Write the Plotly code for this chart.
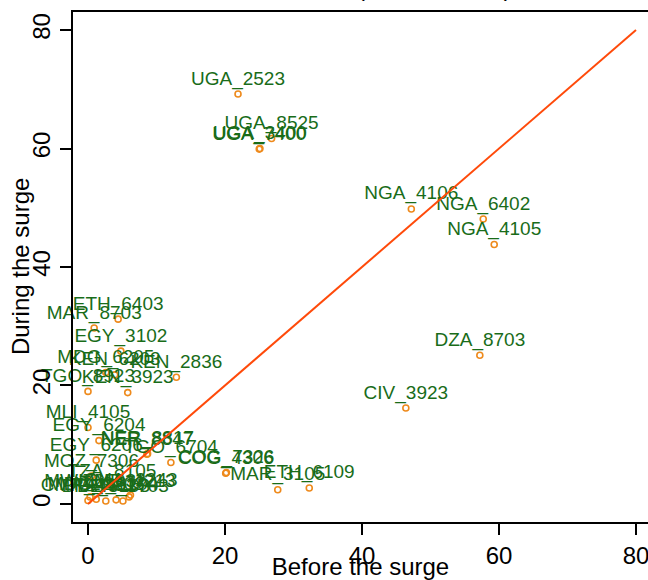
import plotly.graph_objects as go

# ---- data ----
labels = [
    "UGA_2523", "UGA_8525", "UGA_7400", "UGA_3400",
    "NGA_4106", "NGA_6402", "NGA_4105", "DZA_8703", "CIV_3923",
    "ETH_6403", "MAR_8703", "EGY_3102", "MDG_6205", "KEN_6203",
    "KEN_2836", "TGO_8923", "KEN_3923",
    "MLI_4105", "EGY_6204", "NER_8847", "NER_8817", "EGY_6206",
    "TGO_6704", "MOZ_7306", "COG_4306", "COG_7326", "MAR_3105", "ETH_6109",
    "TZA_8105", "GHA_2243", "ZMB_4213",
    "CMR_4411", "MWI_6503", "MDG_2203", "BFA_5103", "MLI_6104", "BEN_3703",
]
before = [
    21.9, 26.8, 25.0, 25.1,
    47.2, 57.7, 59.3, 57.2, 46.4,
    4.4, 0.9, 4.8, 2.6, 3.9,
    12.9, 0.0, 5.8,
    0.0, 1.6, 8.6, 8.7, 1.2,
    12.1, 0.5, 20.1, 20.2, 27.7, 32.3,
    3.5, 6.2, 6.0,
    0.0, 0.3, 1.2, 2.6, 4.1, 5.1,
]
during = [
    69.2, 61.7, 59.9, 60.0,
    49.8, 48.1, 43.8, 25.1, 16.2,
    31.2, 29.7, 25.8, 22.2, 21.8,
    21.4, 19.0, 18.8,
    12.9, 10.7, 8.4, 8.5, 7.4,
    7.0, 4.7, 5.2, 5.3, 2.4, 2.7,
    3.0, 1.5, 1.2,
    0.6, 1.2, 0.8, 0.5, 0.7, 0.5,
]
diag_x = [0, 80]
diag_y = [0, 80]
ticks = [0, 20, 40, 60, 80]

FONT = "Liberation Sans, Arial, Helvetica, sans-serif"
LABEL_GREEN = "#196c19"
MARKER_ORANGE = "#ee8a1c"
LINE_RED = "#ff4a0a"

fig = go.Figure()
fig.add_trace(go.Scatter(
    x=before, y=during, mode="markers+text", text=labels,
    textposition="top center",
    textfont=dict(family=FONT, size=19, color=LABEL_GREEN),
    marker=dict(symbol="circle-open", size=6, color=MARKER_ORANGE,
                line=dict(width=1.6, color=MARKER_ORANGE)),
    showlegend=False, cliponaxis=False,
))
fig.add_trace(go.Scatter(
    x=diag_x, y=diag_y, mode="lines",
    line=dict(color=LINE_RED, width=2), showlegend=False,
))

fig.add_annotation(
    text="(% of all visits)", xref="paper", yref="paper",
    x=0.6287, y=1.0185, xanchor="center", yanchor="bottom",
    showarrow=False, font=dict(family=FONT, size=24, color="black"),
)
fig.add_annotation(
    text="During the surge", xref="paper", yref="paper",
    x=-0.092, y=0.5, xanchor="center", yanchor="middle", textangle=-90,
    showarrow=False, font=dict(family=FONT, size=24, color="black"),
)

fig.update_layout(
    width=648, height=580,
    margin=dict(l=73, r=0, t=12, b=58),
    paper_bgcolor="white", plot_bgcolor="white",
    font=dict(family=FONT, color="black"),
)
fig.update_xaxes(
    range=[-2.19, 81.75], tickvals=ticks, ticks="outside", ticklen=11,
    tickwidth=2, tickcolor="black", showgrid=False, zeroline=False,
    showline=True, linewidth=2, linecolor="black", mirror=True,
    tickfont=dict(family=FONT, size=24), ticklabeloverflow="allow",
    automargin=False,
    title=dict(text="Before the surge", font=dict(family=FONT, size=24)),
)
fig.update_yaxes(
    range=[-3.04, 83.04], tickvals=ticks, ticks="outside", ticklen=11,
    tickwidth=2, tickcolor="black", showgrid=False, zeroline=False,
    showline=True, linewidth=2, linecolor="black", mirror=False,
    tickangle=-90, tickfont=dict(family=FONT, size=24), ticklabeloverflow="allow",
    automargin=False,
)

fig.write_html(
    "out.html",
    config={"displayModeBar": False},
    post_script="document.body.style.margin='0';document.body.style.overflow='hidden';",
)
